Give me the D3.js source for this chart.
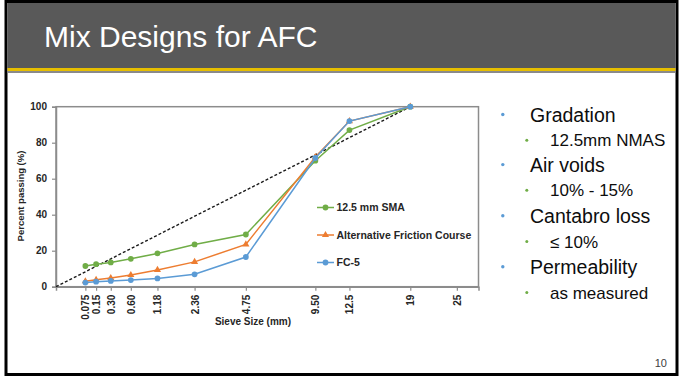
<!DOCTYPE html>
<html>
<head>
<meta charset="utf-8">
<script src="https://cdn.jsdelivr.net/npm/d3@7"></script>
<style>
  html, body { margin: 0; padding: 0; background: #fff; }
  svg { display: block; font-family: "Liberation Sans", Arial, sans-serif; }
</style>
</head>
<body>
<svg id="slide" width="683" height="378"></svg>
<script>
// Sieve sizes (mm) and percent passing for each mix
const sieves = [0.075, 0.15, 0.30, 0.60, 1.18, 2.36, 4.75, 9.50, 12.5, 19];
const tickSizes = [0.075, 0.15, 0.30, 0.60, 1.18, 2.36, 4.75, 9.50, 12.5, 19, 25];
const tickLabels = ["0.075", "0.15", "0.30", "0.60", "1.18", "2.36", "4.75", "9.50", "12.5", "19", "25"];
const yTicks = [0, 20, 40, 60, 80, 100];

const sma = [11.5, 12.5, 13.5, 15.5, 18.5, 23.5, 29, 70, 87, 100];
const afc = [3, 3.8, 4.8, 6.5, 9.3, 13.8, 23.5, 72, 92, 100];
const fc5 = [2.3, 2.8, 3.2, 3.7, 4.6, 6.9, 16.5, 71.5, 92, 100];

// Maximum density line endpoints
const maxDensitySizes = [0, 19];
const maxDensityPassing = [0, 100];

const seriesNames = ["12.5 mm SMA", "Alternative Friction Course", "FC-5"];
const seriesColors = ["#70AD47", "#ED7D31", "#5B9BD5"];
const seriesMarkers = ["circle", "triangle", "circle"];

const bullets = [
  { level: 0, text: "Gradation" },
  { level: 1, text: "12.5mm NMAS" },
  { level: 0, text: "Air voids" },
  { level: 1, text: "10% - 15%" },
  { level: 0, text: "Cantabro loss" },
  { level: 1, text: "\u2264 10%" },
  { level: 0, text: "Permeability" },
  { level: 1, text: "as measured" }
];

const svg = d3.select("#slide");

// Slide frame and header band
svg.append("rect").attr("x", 6).attr("y", 1.5).attr("width", 671).attr("height", 373)
  .attr("fill", "#fff").attr("stroke", "#000").attr("stroke-width", 3);
svg.append("rect").attr("x", 7.5).attr("y", 3).attr("width", 668).attr("height", 65).attr("fill", "#595959");
svg.append("rect").attr("x", 7.5).attr("y", 68).attr("width", 668).attr("height", 3).attr("fill", "#E6BE00");
svg.append("rect").attr("x", 7.5).attr("y", 71).attr("width", 668).attr("height", 2).attr("fill", "#8a8a8a");
svg.append("text").attr("x", 44).attr("y", 47).attr("fill", "#fff")
  .attr("font-size", 30).text("Mix Designs for AFC");

// Chart scales (0.45 power gradation chart)
const x = d3.scalePow().exponent(0.45).domain([0, 28.1]).range([56, 478.5]);
const y = d3.scaleLinear().domain([0, 100]).range([286.7, 106.7]);

const axisGray = "#8c8c8c";
const textDark = "#262626";

// Plot frame (top/right)
svg.append("rect").attr("x", x(0)).attr("y", y(100))
  .attr("width", x.range()[1] - x(0)).attr("height", y(0) - y(100))
  .attr("fill", "none").attr("stroke", axisGray).attr("stroke-width", 1.5);

// Y axis
const yAxis = svg.append("g").attr("transform", `translate(${x(0)},0)`)
  .call(d3.axisLeft(y).tickValues(yTicks).tickSize(4).tickPadding(5));
yAxis.select(".domain").attr("stroke", axisGray).attr("stroke-width", 1.5);
yAxis.selectAll(".tick line").attr("stroke", axisGray).attr("stroke-width", 1.2);
yAxis.selectAll("text").attr("font-size", 10).attr("font-weight", "bold")
  .attr("fill", textDark).attr("font-family", "Liberation Sans, Arial, sans-serif");

// X axis
const xAxis = svg.append("g").attr("transform", `translate(0,${y(0)})`)
  .call(d3.axisBottom(x).tickValues(tickSizes).tickSize(4)
    .tickFormat((d, i) => tickLabels[i]));
xAxis.select(".domain").attr("stroke", axisGray).attr("stroke-width", 1.5);
xAxis.selectAll(".tick line").attr("stroke", axisGray).attr("stroke-width", 1.2);
xAxis.selectAll("text")
  .attr("font-size", 10).attr("font-weight", "bold").attr("fill", textDark)
  .attr("font-family", "Liberation Sans, Arial, sans-serif")
  .attr("text-anchor", "end").attr("dy", null).attr("y", 0)
  .attr("transform", "translate(3.5,8) rotate(-90)");

// Axis titles
svg.append("text").attr("x", 253).attr("y", 325).attr("text-anchor", "middle")
  .attr("font-size", 10).attr("font-weight", "bold").attr("fill", textDark)
  .text("Sieve Size (mm)");
svg.append("text").attr("transform", "translate(23.5,196) rotate(-90)")
  .attr("text-anchor", "middle").attr("font-size", 9.5).attr("font-weight", "bold")
  .attr("fill", textDark).text("Percent passing (%)");

// Maximum density line
svg.append("path")
  .attr("d", d3.line()(maxDensitySizes.map((s, i) => [x(s), y(maxDensityPassing[i])])))
  .attr("fill", "none").attr("stroke", "#1a1a1a").attr("stroke-width", 1.4)
  .attr("stroke-dasharray", "3,2");

// Series lines and markers
const allSeries = [sma, afc, fc5];
const line = d3.line().x(d => x(d[0])).y(d => y(d[1]));
const symCircle = d3.symbol().type(d3.symbolCircle).size(26);
const symTri = d3.symbol().type(d3.symbolTriangle).size(22);

allSeries.forEach((vals, k) => {
  const pts = sieves.map((s, i) => [s, vals[i]]);
  const g = svg.append("g");
  g.append("path").attr("d", line(pts)).attr("fill", "none")
    .attr("stroke", seriesColors[k]).attr("stroke-width", 1.5);
  g.selectAll("path.m").data(pts).join("path").attr("class", "m")
    .attr("transform", d => `translate(${x(d[0])},${y(d[1])})`)
    .attr("d", seriesMarkers[k] === "circle" ? symCircle : symTri)
    .attr("fill", seriesColors[k]);
});

// Legend
const legY = [207.5, 235, 262.5];
seriesNames.forEach((name, k) => {
  const g = svg.append("g").attr("transform", `translate(317,${legY[k]})`);
  g.append("line").attr("x1", 0).attr("x2", 17).attr("stroke", seriesColors[k]).attr("stroke-width", 1.5);
  g.append("path").attr("transform", "translate(8.5,0)")
    .attr("d", seriesMarkers[k] === "circle" ? symCircle : symTri).attr("fill", seriesColors[k]);
  g.append("text").attr("x", 19.5).attr("y", 3.7).attr("font-size", 10.5)
    .attr("font-weight", "bold").attr("fill", textDark).text(name);
});

// Bullet list
const mainY = [121.7, 171.8, 223, 274];
let mi = 0, si = 0;
bullets.forEach(b => {
  if (b.level === 0) {
    const by = mainY[mi++];
    svg.append("circle").attr("cx", 502.8).attr("cy", by - 7.2).attr("r", 1.7).attr("fill", "#5B9BD5");
    svg.append("text").attr("x", 530).attr("y", by).attr("font-size", 19.5).attr("fill", "#0d0d0d").text(b.text);
  } else {
    const by = mainY[si++] + 24.5;
    svg.append("circle").attr("cx", 526.8).attr("cy", by - 6).attr("r", 1.5).attr("fill", "#70AD47");
    svg.append("text").attr("x", 550).attr("y", by).attr("font-size", 17).attr("fill", "#0d0d0d").text(b.text);
  }
});

// Page number
svg.append("text").attr("x", 667).attr("y", 367).attr("text-anchor", "end")
  .attr("font-size", 11).attr("fill", "#404040").text("10");
</script>
</body>
</html>
